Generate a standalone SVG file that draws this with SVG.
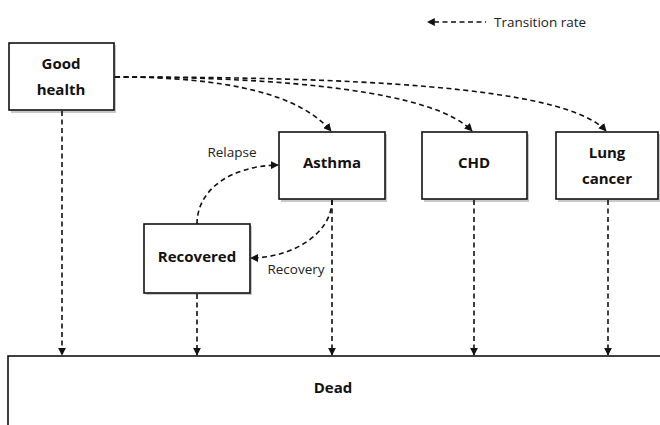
<svg xmlns="http://www.w3.org/2000/svg" width="660" height="425" viewBox="0 0 660 425">
<defs>
<style>
.box{fill:#fff;stroke:#111;stroke-width:1.6}
.sh{fill:#c8c8c8}
.lbl{font-family:"Open Sans","Liberation Sans",sans-serif;font-weight:bold;font-size:15px;fill:#111;text-anchor:middle}
.sm{font-family:"Open Sans","Liberation Sans",sans-serif;font-size:13.5px;fill:#222}
.cn{fill:none;stroke:#111;stroke-width:1.6;stroke-dasharray:5 3.5;marker-end:url(#ah)}
</style>
<marker id="ah" viewBox="0 0 10 10" refX="9" refY="5" markerWidth="8" markerHeight="8" markerUnits="userSpaceOnUse" orient="auto">
<path d="M0,0 L10,5 L0,10 Z" fill="#111"/>
</marker>
<marker id="ahs" viewBox="0 0 10 10" refX="1" refY="5" markerWidth="8" markerHeight="8" markerUnits="userSpaceOnUse" orient="auto-start-reverse">
<path d="M0,0 L10,5 L0,10 Z" fill="#111"/>
</marker>
</defs>
<rect width="660" height="425" fill="#fff"/>
<g id="legend">
<path d="M434,22 L486,22" fill="none" stroke="#111" stroke-width="1.6" stroke-dasharray="5 3.5" marker-start="url(#ahs)"/>
<text class="sm" x="494" y="27">Transition rate</text>
</g>
<g id="good-health">
<rect class="sh" x="11" y="45" width="105" height="68"/>
<rect class="box" x="9" y="43" width="105" height="67"/>
<text class="lbl" x="61" y="69">Good</text>
<text class="lbl" x="61" y="95">health</text>
</g>
<g id="asthma">
<rect class="sh" x="281" y="134" width="106" height="68"/>
<rect class="box" x="279" y="132" width="106" height="67"/>
<text class="lbl" x="332" y="168">Asthma</text>
</g>
<g id="chd">
<rect class="sh" x="424" y="134" width="105" height="68"/>
<rect class="box" x="422" y="132" width="105" height="67"/>
<text class="lbl" x="474" y="168">CHD</text>
</g>
<g id="lung-cancer">
<rect class="sh" x="558" y="134" width="102" height="68"/>
<rect class="box" x="556" y="132" width="102" height="67"/>
<text class="lbl" x="607" y="158">Lung</text>
<text class="lbl" x="607" y="184">cancer</text>
</g>
<g id="recovered">
<rect class="sh" x="146" y="226" width="106" height="69"/>
<rect class="box" x="144" y="224" width="106" height="69"/>
<text class="lbl" x="197" y="262">Recovered</text>
</g>
<g id="dead">
<rect class="box" x="8" y="356" width="660" height="80"/>
<text class="lbl" x="333" y="393">Dead</text>
</g>
<g id="connectors">
<path class="cn" d="M115,77 C230,77 300,95 331,131"/>
<path class="cn" d="M115,77 C290,77 435,92 472,131"/>
<path class="cn" d="M115,77 C340,77 565,85 606,131"/>
<path class="cn" d="M197,224 C197,190 230,166 278,165"/>
<path class="cn" d="M332,200 C332,235 290,258 251,258"/>
<path class="cn" d="M62,111 L62,355"/>
<path class="cn" d="M197,294 L197,355"/>
<path class="cn" d="M332,200 L332,355"/>
<path class="cn" d="M474,200 L474,355"/>
<path class="cn" d="M608,200 L608,355"/>
<text class="sm" x="232" y="157" text-anchor="middle">Relapse</text>
<text class="sm" x="296" y="274" text-anchor="middle">Recovery</text>
</g>
</svg>
